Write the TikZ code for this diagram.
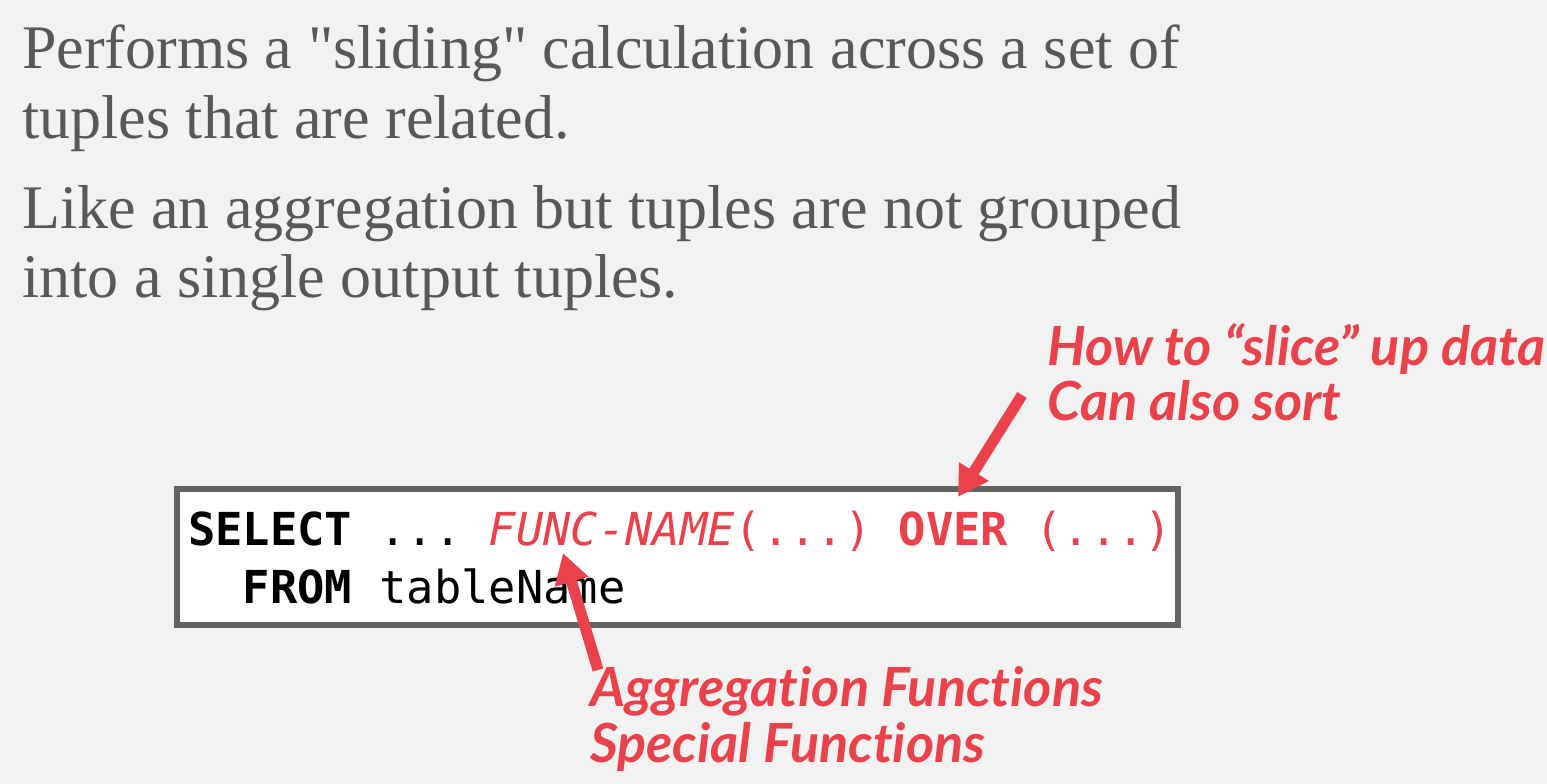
\documentclass[tikz,border=0pt]{standalone}
\usepackage{fontspec}
\setmainfont{Liberation Serif}[Ligatures=TeXOff]
\setmonofont{DejaVu Sans Mono}
\newfontfamily\latofont{Lato}[Ligatures={NoCommon,NoRare,NoContextual}]
\usetikzlibrary{arrows.meta}
\definecolor{bgc}{HTML}{F2F2F2}
\definecolor{bodyc}{HTML}{585858}
\definecolor{redc}{HTML}{EA414A}
\definecolor{boxc}{HTML}{626262}
\newcommand\tiNoLig{t\kern0pt i}
\tikzset{
  body/.style={anchor=base west, inner sep=0pt, text=bodyc, font=\fontsize{62}{66}\selectfont},
  note/.style={anchor=base west, inner sep=0pt, text=redc, font=\latofont\bfseries\itshape\fontsize{54}{58}\selectfont},
  code/.style={anchor=base west, inner sep=0pt, font=\ttfamily\fontsize{45.4}{50}\selectfont},
  redarrow/.style={draw=redc, line width=11pt, -{Triangle[length=30pt,width=33pt]}},
}
\begin{document}
\begin{tikzpicture}[x=1pt,y=-1pt]
\fill[bgc] (0,0) rectangle (1547,784);
\useasboundingbox (0,0) rectangle (1547,784);
\node[body] (l1) at (22,69) {Performs a "sliding" calculation across a set of};
\node[body] (l2) at (22,138) {tuples that are related.};
\node[body] (l3) at (22,228) {Like an aggregation but tuples are not grouped};
\node[body] (l4) at (22,297) {into a single output tuples.};
\draw[boxc, line width=5.5pt, fill=white] (177,489) rectangle (1178,625);
\node[code] (c1) at (188,545) {\textbf{SELECT} ... \textcolor{redc}{\textit{FUNC-NAME}(...) \textbf{OVER} (...)}};
\node[code] (c2) at (188,603) {\ \ \textbf{FROM} tableName};
\node[note] (n1) at (1047,365) {How to “slice” up data};
\node[note] (n2) at (1047,420) {Can also sort};
\node[note] (n3) at (590,706) {Aggrega\tiNoLig on Func\tiNoLig ons};
\node[note] (n4) at (590,762) {Special Func\tiNoLig ons};
\coordinate (t1) at (1022,395);
\coordinate (h1) at (958,497);
\coordinate (t2) at (598,670);
\coordinate (h2) at (563,553);
\draw[redarrow] (t1) -- (h1);
\draw[redarrow] (t2) -- (h2);
\end{tikzpicture}
\end{document}
